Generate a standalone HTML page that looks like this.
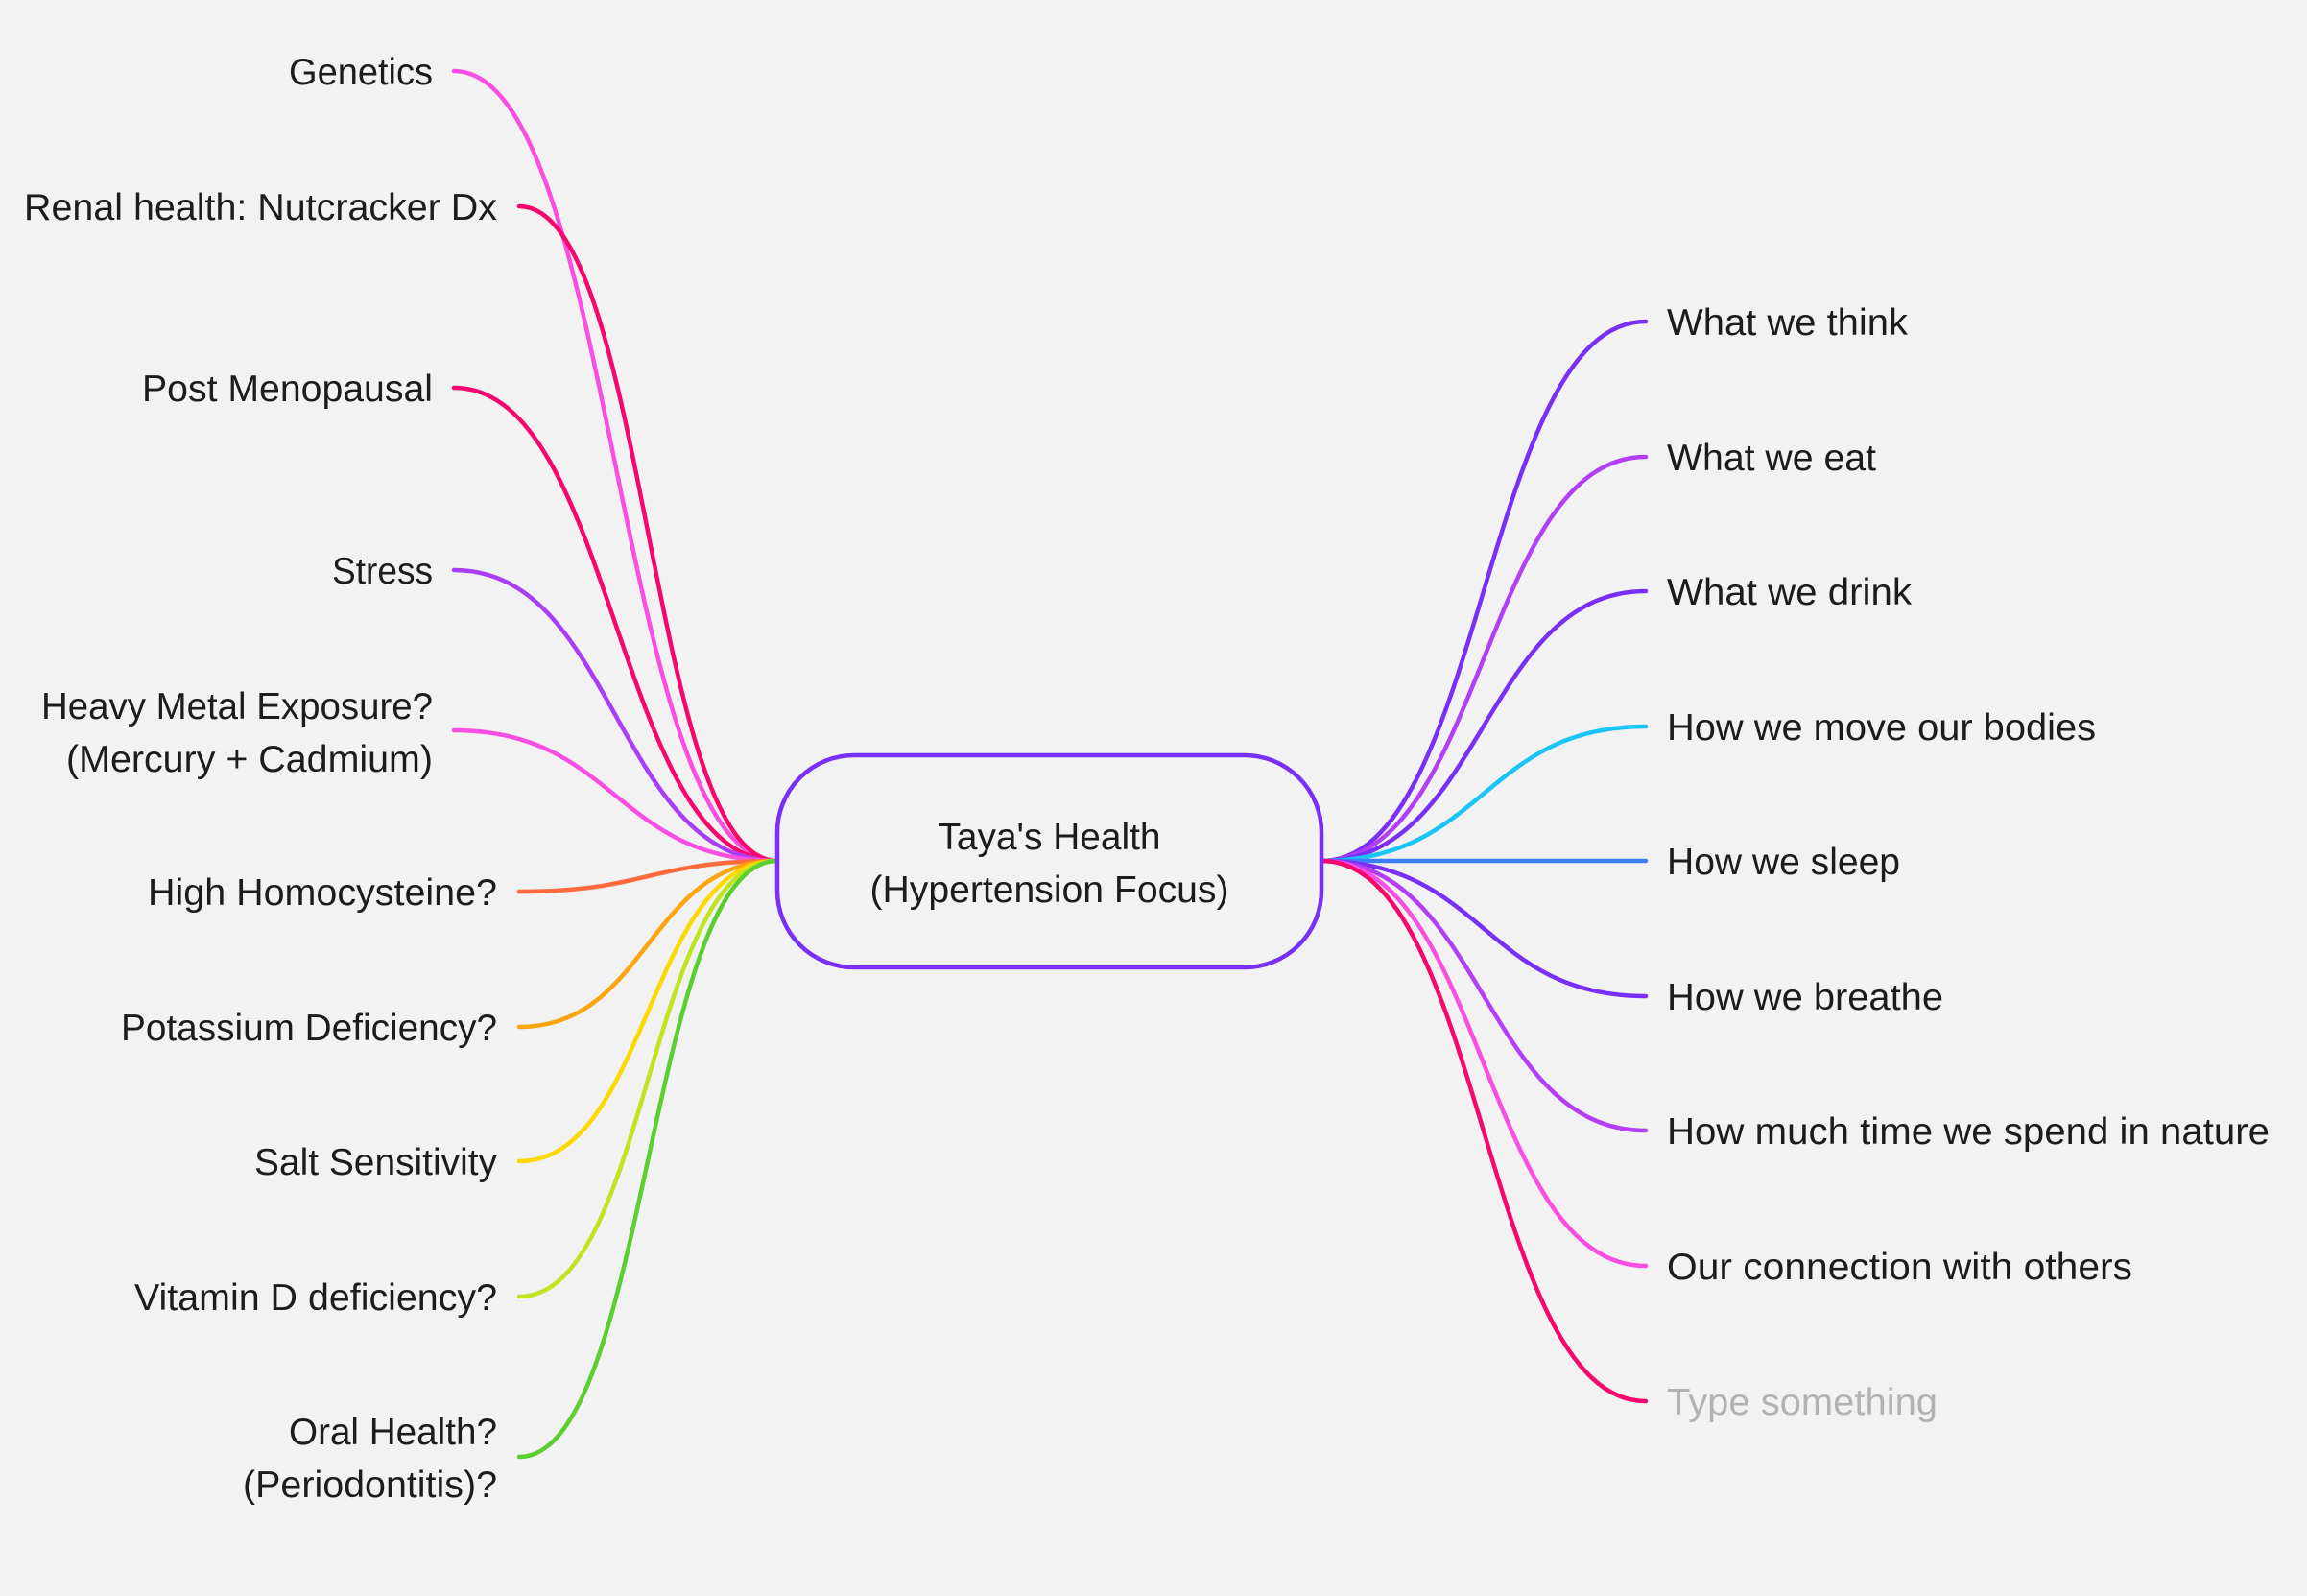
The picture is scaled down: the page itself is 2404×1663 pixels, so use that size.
<!DOCTYPE html>
<html>
<head>
<meta charset="utf-8">
<style>
  html,body{margin:0;padding:0;background:#f2f2f2;}
  svg{display:block;}
  text{font-family:"Liberation Sans",Arial,sans-serif;font-size:39px;fill:#1c1c1c;}
</style>
</head>
<body>
<svg width="2404" height="1663" viewBox="0 0 2404 1663" xmlns="http://www.w3.org/2000/svg">
  <rect x="0" y="0" width="2404" height="1663" fill="#f2f2f2"/>

  <g fill="none" stroke-width="4.5" stroke-linecap="round">
    <!-- left connectors -->
    <path d="M473 74 C641.5 74, 641.5 897, 810 897" stroke="#f84fe2"/>
    <path d="M541 215 C675.5 215, 675.5 897, 810 897" stroke="#f5076c"/>
    <path d="M473 404 C641.5 404, 641.5 897, 810 897" stroke="#f5076c"/>
    <path d="M473 594 C641.5 594, 641.5 897, 810 897" stroke="#aa3ef6"/>
    <path d="M473 761 C641.5 761, 641.5 897, 810 897" stroke="#f84fe2"/>
    <path d="M541 929 C675.5 929, 675.5 897, 810 897" stroke="#ff6a3e"/>
    <path d="M541 1070 C675.5 1070, 675.5 897, 810 897" stroke="#fca60f"/>
    <path d="M541 1210 C675.5 1210, 675.5 897, 810 897" stroke="#fcd900"/>
    <path d="M541 1351 C675.5 1351, 675.5 897, 810 897" stroke="#c0e41f"/>
    <path d="M541 1518 C675.5 1518, 675.5 897, 810 897" stroke="#5ccf2e"/>

    <!-- right connectors -->
    <path d="M1377 897 C1546 897, 1546 335, 1715 335" stroke="#7a2ff7"/>
    <path d="M1377 897 C1546 897, 1546 476, 1715 476" stroke="#b23ef5"/>
    <path d="M1377 897 C1546 897, 1546 616, 1715 616" stroke="#7a2ff7"/>
    <path d="M1377 897 C1546 897, 1546 757, 1715 757" stroke="#18c5f6"/>
    <path d="M1377 897 L1715 897" stroke="#3b7ff6"/>
    <path d="M1377 897 C1546 897, 1546 1038, 1715 1038" stroke="#7a2ff7"/>
    <path d="M1377 897 C1546 897, 1546 1178, 1715 1178" stroke="#b23ef5"/>
    <path d="M1377 897 C1546 897, 1546 1319, 1715 1319" stroke="#f84fe2"/>
    <path d="M1377 897 C1546 897, 1546 1460, 1715 1460" stroke="#f5076c"/>
  </g>

  <!-- central node -->
  <rect x="810" y="787" width="567" height="221" rx="80" ry="80" fill="#f2f2f2" stroke="#7a2ff7" stroke-width="4.5"/>
  <text x="1093.5" y="885" text-anchor="middle" textLength="232" lengthAdjust="spacingAndGlyphs">Taya's Health</text>
  <text x="1093.5" y="940" text-anchor="middle" textLength="374" lengthAdjust="spacingAndGlyphs">(Hypertension Focus)</text>

  <!-- left labels -->
  <text x="451" y="88" text-anchor="end" textLength="150" lengthAdjust="spacingAndGlyphs">Genetics</text>
  <text x="518" y="229" text-anchor="end" textLength="493" lengthAdjust="spacingAndGlyphs">Renal health: Nutcracker Dx</text>
  <text x="451" y="418" text-anchor="end" textLength="303" lengthAdjust="spacingAndGlyphs">Post Menopausal</text>
  <text x="451" y="608" text-anchor="end" textLength="105" lengthAdjust="spacingAndGlyphs">Stress</text>
  <text x="451" y="749" text-anchor="end" textLength="408" lengthAdjust="spacingAndGlyphs">Heavy Metal Exposure?</text>
  <text x="451" y="804" text-anchor="end" textLength="382" lengthAdjust="spacingAndGlyphs">(Mercury + Cadmium)</text>
  <text x="518" y="943" text-anchor="end" textLength="364" lengthAdjust="spacingAndGlyphs">High Homocysteine?</text>
  <text x="518" y="1084" text-anchor="end" textLength="392" lengthAdjust="spacingAndGlyphs">Potassium Deficiency?</text>
  <text x="518" y="1224" text-anchor="end" textLength="253" lengthAdjust="spacingAndGlyphs">Salt Sensitivity</text>
  <text x="518" y="1365" text-anchor="end" textLength="378" lengthAdjust="spacingAndGlyphs">Vitamin D deficiency?</text>
  <text x="518" y="1505" text-anchor="end" textLength="217" lengthAdjust="spacingAndGlyphs">Oral Health?</text>
  <text x="518" y="1560" text-anchor="end" textLength="265" lengthAdjust="spacingAndGlyphs">(Periodontitis)?</text>

  <!-- right labels -->
  <text x="1737" y="349" textLength="251" lengthAdjust="spacingAndGlyphs">What we think</text>
  <text x="1737" y="490" textLength="218" lengthAdjust="spacingAndGlyphs">What we eat</text>
  <text x="1737" y="630" textLength="255" lengthAdjust="spacingAndGlyphs">What we drink</text>
  <text x="1737" y="771" textLength="447" lengthAdjust="spacingAndGlyphs">How we move our bodies</text>
  <text x="1737" y="911" textLength="243" lengthAdjust="spacingAndGlyphs">How we sleep</text>
  <text x="1737" y="1052" textLength="288" lengthAdjust="spacingAndGlyphs">How we breathe</text>
  <text x="1737" y="1192" textLength="628" lengthAdjust="spacingAndGlyphs">How much time we spend in nature</text>
  <text x="1737" y="1333" textLength="485" lengthAdjust="spacingAndGlyphs">Our connection with others</text>
  <text x="1737" y="1474" textLength="282" lengthAdjust="spacingAndGlyphs" style="fill:#b2b2b2">Type something</text>
</svg>
</body>
</html>
